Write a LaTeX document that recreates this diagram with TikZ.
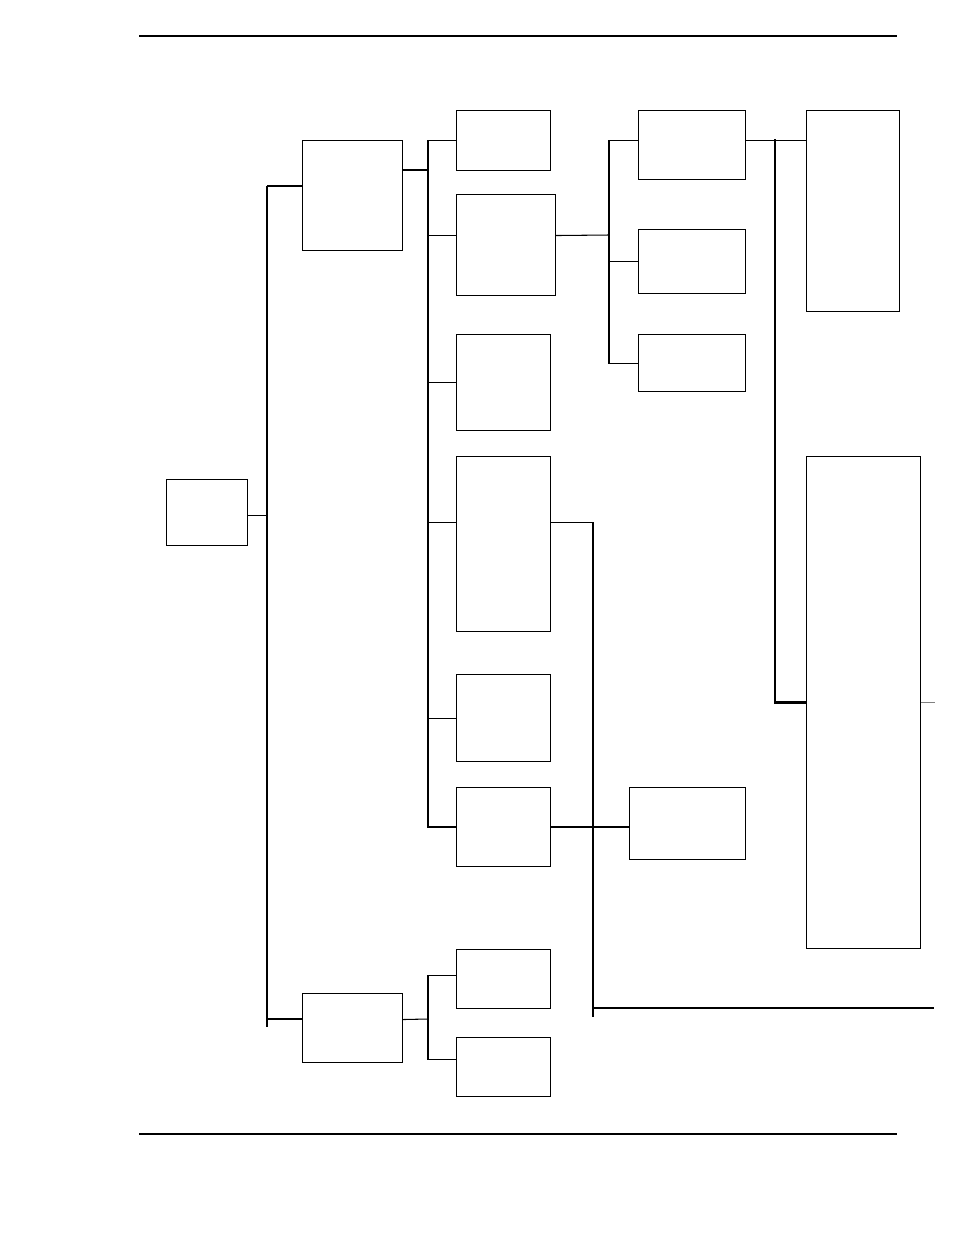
\documentclass[tikz,border=0pt]{standalone}
\usetikzlibrary{positioning}
\tikzset{
  box/.style={
    rectangle,
    draw=black, semithick,
    inner sep=0pt,
    anchor=north west},
  line/.style={draw, semithick},
  heavy/.style={draw, thick},
  stub/.style={draw=gray, semithick},
}
\begin{document}
\begin{tikzpicture}[x=0.02cm, y=-0.02cm]
     \useasboundingbox (0,0) rectangle (954,1235);
     \draw[line width=1.5pt] (139,36) -- (897,36);
     \draw[line width=1.1pt] (139,1134) -- (897,1134);
     % boxes
     \node[box, minimum width=1.62cm, minimum height=1.32cm] (Root) at (166,479) {};
     \node[box, minimum width=2.0cm,  minimum height=2.2cm]  (Upper) at (302,140) {};
     \node[box, minimum width=2.0cm,  minimum height=1.38cm] (Lower) at (302,993) {};
     \node[box, minimum width=1.88cm, minimum height=1.2cm]  (UpOne) at (456,110) {};
     \node[box, minimum width=1.98cm, minimum height=2.02cm] (UpTwo) at (456,194) {};
     \node[box, minimum width=1.88cm, minimum height=1.92cm] (UpThree) at (456,334) {};
     \node[box, minimum width=1.88cm, minimum height=3.5cm]  (UpFour) at (456,456) {};
     \node[box, minimum width=1.88cm, minimum height=1.74cm] (UpFive) at (456,674) {};
     \node[box, minimum width=1.88cm, minimum height=1.58cm] (UpSix) at (456,787) {};
     \node[box, minimum width=1.88cm, minimum height=1.18cm] (LowOne) at (456,949) {};
     \node[box, minimum width=1.88cm, minimum height=1.18cm] (LowTwo) at (456,1037) {};
     \node[box, minimum width=2.14cm, minimum height=1.38cm] (SubOne) at (638,110) {};
     \node[box, minimum width=2.14cm, minimum height=1.28cm] (SubTwo) at (638,229) {};
     \node[box, minimum width=2.14cm, minimum height=1.14cm] (SubThree) at (638,334) {};
     \node[box, minimum width=2.32cm, minimum height=1.44cm] (SixSub) at (629,787) {};
     \node[box, minimum width=1.86cm, minimum height=4.02cm] (TallOne) at (806,110) {};
     \node[box, minimum width=2.28cm, minimum height=9.84cm] (TallTwo) at (806,456) {};
     % trunk
     \coordinate (TrunkTop) at (267,186);
     \coordinate (TrunkLow) at (267,1019);
     \coordinate (TrunkEnd) at (267,1027);
     \draw[line] (TrunkTop) -- (TrunkEnd);
     \draw[line] ([yshift=-0.06cm]Root.east) -- ([yshift=-0.06cm]Root.east -| TrunkTop);
     \draw[line] (TrunkTop) -- (Upper.west |- TrunkTop);
     \draw[line] (TrunkLow) -- (Lower.west |- TrunkLow);
     % upper bus
     \coordinate (BusA) at (428,170);
     \draw[line] (Upper.east |- BusA) -- (BusA);
     \draw[line] (UpOne.west) -| (BusA) |- (UpFive.west);
     \draw[line] ([yshift=0.19cm]UpTwo.west) -- +(-28,0);
     \draw[line] (UpThree.west) -- (UpThree.west -| BusA);
     \draw[line] ([yshift=0.43cm]UpFour.west) -- +(-28,0);
     \draw[heavy] (UpFive.west -| BusA) |- (UpSix.west);
     % lower bus
     \coordinate (BusB) at (428,1019);
     \draw[line] ([yshift=0.17cm]Lower.east) -- (BusB);
     \draw[line] ([yshift=0.07cm]LowOne.west) -| (BusB);
     \draw[heavy] (BusB) |- ([yshift=0.15cm]LowTwo.west);
     % second bus
     \coordinate (BusE) at (609,235);
     \draw[line] ([yshift=0.19cm]UpTwo.east) -- (BusE);
     \draw[line] ([yshift=0.09cm]SubOne.west) -| (BusE) |- (SubThree.west);
     \draw[line] (SubTwo.west) -- (SubTwo.west -| BusE);
     % right side
     \coordinate (SpineTop) at (775,139);
     \draw[line] ([yshift=0.09cm]SubOne.east) -- ([yshift=0.09cm]SubOne.east -| TallOne.west);
     \draw[line width=1.3pt] (SpineTop) |- (TallTwo.west);
     \draw[stub] (TallTwo.east) -- +(14,0);
     % long drop
     \coordinate (DropTop) at (593,522);
     \coordinate (DropEnd) at (593,1017);
     \coordinate (FarEnd) at (934,1008);
     \draw[line] ([yshift=0.43cm]UpFour.east) -| (DropEnd);
     \draw[line] (DropTop |- FarEnd) -- (FarEnd);
     \draw[heavy] (UpSix.east) -- (UpSix.east -| SixSub.west);
\end{tikzpicture}
\end{document}
